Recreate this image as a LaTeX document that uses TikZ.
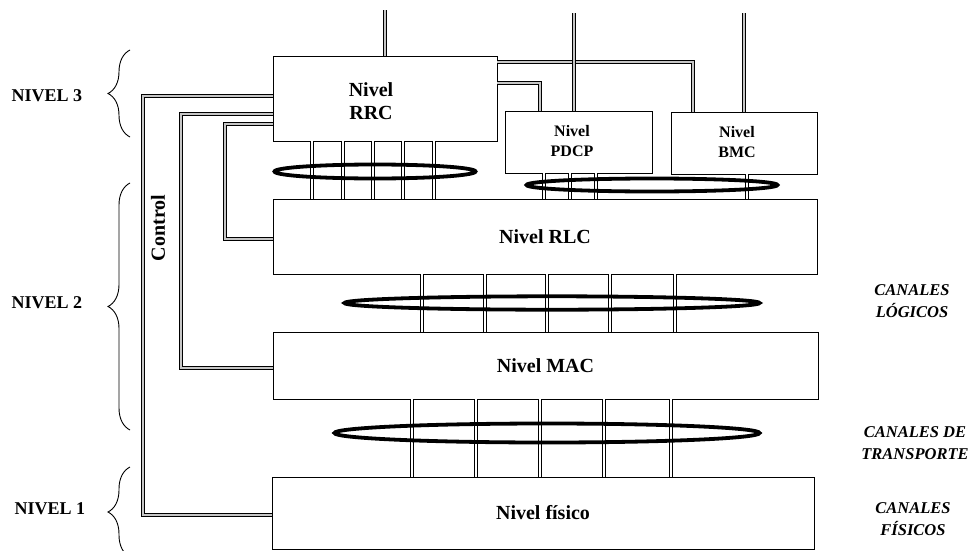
\documentclass[tikz,border=0pt]{standalone}
\usepackage{fontspec}
\setmainfont{Liberation Serif}
\usetikzlibrary{decorations.pathreplacing}

\begin{document}
\begin{tikzpicture}[x=1pt, y=-1pt,
        box/.style={draw, line width=0.8pt, inner sep=0pt},
        boxtext/.style={font=\bfseries\fontsize{20}{23}\selectfont, align=center},
        smalltext/.style={font=\bfseries\fontsize{16}{20}\selectfont, align=center},
        leveltext/.style={font=\bfseries\fontsize{18}{20}\selectfont},
        chantext/.style={font=\bfseries\itshape\fontsize{16.5}{22}\selectfont, align=center},
        wire/.style={double=gray!45, double distance=1.8pt, line width=1.2pt},
        link/.style={double=white, double distance=2.6pt, line width=1.1pt},
        bundle/.style={line width=3.8pt},
        lbrace/.style={decorate, decoration={brace, amplitude=22pt}, line width=0.9pt}]
    \useasboundingbox (0,0) rectangle (971,551);

    % niveles
    \node[box, minimum width=224pt, minimum height=85pt] (RRC) at (385,98.5) {};
    \node[box, minimum width=147pt, minimum height=62pt] (PDCP) at (578.5,142) {};
    \node[box, minimum width=146pt, minimum height=62pt] (BMC) at (744,143) {};
    \node[box, boxtext, minimum width=544pt, minimum height=75pt] (RLC) at (545,236.5) {Nivel RLC};
    \node[box, boxtext, minimum width=545pt, minimum height=67pt] (MAC) at (545.5,365.5) {Nivel MAC};
    \node[box, boxtext, minimum width=542pt, minimum height=72pt] (PHY) at (543,513) {Nivel físico};
    \node[boxtext] (rrctxt) at (371,101) {Nivel\\RRC};
    \node[smalltext] (pdcptxt) at (572,141) {Nivel\\PDCP};
    \node[smalltext] (bmctxt) at (737,142) {Nivel\\BMC};

    % canales entre niveles
    \foreach \x in {312,343,373,403,434}
        \draw[link] (\x,0 |- RRC.south) -- (\x,0 |- RLC.north);
    \foreach \x in {544,570,596}
        \draw[link] (\x,0 |- PDCP.south) -- (\x,0 |- RLC.north);
    \draw[link] (747,0 |- BMC.south) -- (747,0 |- RLC.north);
    \foreach \x in {422,485,547,610,675}
        \draw[link] (\x,0 |- RLC.south) -- (\x,0 |- MAC.north);
    \foreach \x in {412,476,540,604,671}
        \draw[link] (\x,0 |- MAC.south) -- (\x,0 |- PHY.north);

    \draw[bundle] (375,171.5) ellipse [x radius=100.5pt, y radius=7pt];
    \draw[bundle] (652,185) ellipse [x radius=125.5pt, y radius=6.5pt];
    \draw[bundle] (552,303) ellipse [x radius=207.5pt, y radius=6.7pt];
    \draw[bundle] (547,433) ellipse [x radius=212.5pt, y radius=9.5pt];

    % control
    \draw[wire] (RRC.west |- 0,96) -- (143,96) |- (PHY.west |- 0,515);
    \draw[wire] (RRC.west |- 0,114) -- (181,114) |- (MAC.west |- 0,368);
    \draw[wire] (RRC.west |- 0,124) -- (225,124) |- (RLC.west |- 0,239);
    \draw[wire] (RRC.east |- 0,62) -- (693,62) -- (693,0 |- BMC.north);
    \draw[wire] (RRC.east |- 0,83) -- (540,83) -- (540,0 |- PDCP.north);
    \draw[wire] (RRC.north) -- (385,10);
    \draw[wire] (574,0 |- PDCP.north) -- (574,13);
    \draw[wire] (BMC.north) -- (744,13);
    \node[leveltext, font=\bfseries\fontsize{20}{22}\selectfont, rotate=90] (ctrl) at (158,228) {Control};

    % agrupacion
    \draw[lbrace] (130,137) -- (130,50);
    \draw[lbrace] (130,430) -- (130,183);
    \draw[lbrace] (130,557) -- (130,467);
    \node[leveltext] (n3) at (47,96) {NIVEL 3};
    \node[leveltext] (n2) at (47,303) {NIVEL 2};
    \node[leveltext] (n1) at (50,509) {NIVEL 1};

    \node[chantext] (logch) at (912,301) {CANALES\\LÓGICOS};
    \node[chantext] (trch) at (915,443) {CANALES DE\\TRANSPORTE};
    \node[chantext] (phch) at (913,519) {CANALES\\FÍSICOS};
\end{tikzpicture}
\end{document}
